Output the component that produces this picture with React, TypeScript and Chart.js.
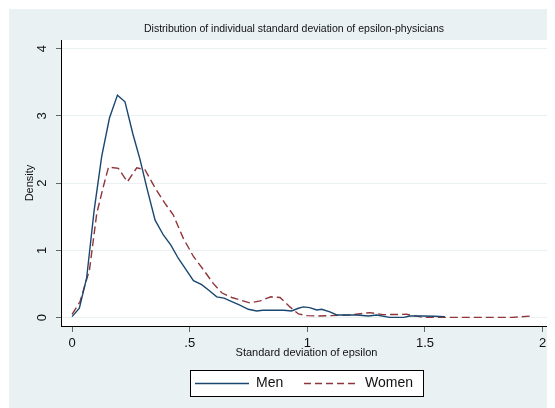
import React, { useEffect, useRef } from "react";
import { Chart, registerables } from "chart.js";

Chart.register(...registerables);

const titleText = "Distribution of individual standard deviation of epsilon-physicians";
const xAxisTitle = "Standard deviation of epsilon";
const yAxisTitle = "Density";
const seriesNames = ["Men", "Women"];
const xTicks = [0, 0.5, 1, 1.5, 2];
const xTickLabels = ["0", ".5", "1", "1.5", "2"];
const yTicks = [0, 1, 2, 3, 4];
const yTickLabels = ["0", "1", "2", "3", "4"];

const menX = [0, 0.031, 0.062, 0.094, 0.126, 0.159, 0.193, 0.225, 0.258, 0.289, 0.32, 0.353, 0.388, 0.42, 0.452, 0.485, 0.516, 0.551, 0.584, 0.615, 0.646, 0.679, 0.711, 0.749, 0.785, 0.81, 0.86, 0.9, 0.933, 0.962, 0.983, 1.01, 1.04, 1.061, 1.096, 1.125, 1.17, 1.21, 1.26, 1.295, 1.35, 1.41, 1.436, 1.49, 1.54, 1.585];
const menY = [0.015, 0.14, 0.59, 1.6, 2.4, 2.97, 3.31, 3.21, 2.74, 2.35, 1.9, 1.45, 1.23, 1.08, 0.88, 0.71, 0.55, 0.49, 0.4, 0.31, 0.29, 0.24, 0.19, 0.125, 0.1, 0.11, 0.11, 0.11, 0.1, 0.14, 0.16, 0.15, 0.115, 0.125, 0.085, 0.04, 0.04, 0.04, 0.025, 0.04, 0.005, 0.005, 0.025, 0.025, 0.02, 0.015];

const womenX = [0, 0.034, 0.074, 0.105, 0.133, 0.155, 0.197, 0.235, 0.275, 0.31, 0.353, 0.395, 0.43, 0.473, 0.516, 0.559, 0.6, 0.636, 0.679, 0.756, 0.8, 0.845, 0.884, 0.926, 0.962, 1.0, 1.04, 1.1, 1.18, 1.266, 1.323, 1.422, 1.49, 1.6, 1.75, 1.87, 1.958];
const womenY = [0.05, 0.24, 0.71, 1.55, 1.95, 2.24, 2.22, 2.02, 2.23, 2.2, 1.93, 1.7, 1.53, 1.18, 0.91, 0.71, 0.51, 0.37, 0.3, 0.22, 0.25, 0.31, 0.3, 0.16, 0.055, 0.03, 0.025, 0.03, 0.04, 0.075, 0.045, 0.05, 0.005, 0.005, 0.005, 0.005, 0.025];

const W = 547;
const H = 400;
const BG = "#EAF1F3";
const MEN_COLOR = "#1A476F";
const WOMEN_COLOR = "#90353B";
const FONT = '"Liberation Sans", Arial, sans-serif';

export default function App() {
  const ref = useRef<HTMLCanvasElement>(null);

  useEffect(() => {
    const canvas = ref.current;
    if (!canvas) return;

    const stataPlugin = {
      id: "stataLook",
      beforeDraw(chart: any) {
        const { ctx, chartArea: a } = chart;
        ctx.save();
        ctx.fillStyle = "#ffffff";
        ctx.fillRect(0, 0, W, H);
        ctx.fillStyle = BG;
        ctx.fillRect(1, 1, W - 1, H - 1);
        ctx.fillStyle = "#ffffff";
        ctx.fillRect(a.left, a.top, a.right - a.left, a.bottom - a.top);
        ctx.restore();
      },
      afterDraw(chart: any) {
        const { ctx, chartArea: a } = chart;
        const xs = chart.scales.x;
        const ys = chart.scales.y;
        ctx.save();
        ctx.fillStyle = "#111";
        ctx.textAlign = "center";
        ctx.textBaseline = "middle";

        // title
        ctx.font = `10.5px ${FONT}`;
        ctx.fillText(titleText, 286, 21);

        // x tick labels
        ctx.font = `13px ${FONT}`;
        xTicks.forEach((v, i) => {
          ctx.fillText(xTickLabels[i], xs.getPixelForValue(v), 335);
        });

        // x title
        ctx.font = `11px ${FONT}`;
        ctx.fillText(xAxisTitle, (a.left + a.right) / 2, 345);

        // y tick labels (rotated)
        yTicks.forEach((v, i) => {
          ctx.save();
          ctx.translate(34, ys.getPixelForValue(v));
          ctx.rotate(-Math.PI / 2);
          ctx.font = `13px ${FONT}`;
          ctx.fillText(yTickLabels[i], 0, 0);
          ctx.restore();
        });

        // y title
        ctx.save();
        ctx.translate(22, (a.top + a.bottom) / 2);
        ctx.rotate(-Math.PI / 2);
        ctx.font = `11px ${FONT}`;
        ctx.fillText(yAxisTitle, 0, 0);
        ctx.restore();

        // legend
        const bx = 182, by = 362, bw = 233, bh = 26;
        ctx.fillStyle = "#ffffff";
        ctx.fillRect(bx, by, bw, bh);
        ctx.strokeStyle = "#000";
        ctx.lineWidth = 1;
        ctx.strokeRect(bx + 0.5, by + 0.5, bw, bh);
        const ly = by + bh / 2 + 0.5;
        const ds = chart.data.datasets;
        const entries = [
          { x0: 187, x1: 241, tx: 248 },
          { x0: 296, x1: 350, tx: 357 },
        ];
        entries.forEach((e, i) => {
          ctx.beginPath();
          ctx.strokeStyle = ds[i].borderColor;
          ctx.lineWidth = 1.3;
          ctx.setLineDash(i === 1 ? [7, 4] : []);
          ctx.moveTo(e.x0, ly);
          ctx.lineTo(e.x1, ly);
          ctx.stroke();
          ctx.setLineDash([]);
          ctx.fillStyle = "#111";
          ctx.font = `14px ${FONT}`;
          ctx.textAlign = "left";
          ctx.fillText(ds[i].label, e.tx, ly);
        });
        ctx.restore();
      },
    };

    const chart = new Chart(canvas, {
      type: "line",
      data: {
        datasets: [
          {
            label: seriesNames[0],
            data: menX.map((x, i) => ({ x, y: menY[i] })),
            borderColor: MEN_COLOR,
            borderWidth: 1.4,
            pointRadius: 0,
            tension: 0,
            fill: false,
          },
          {
            label: seriesNames[1],
            data: womenX.map((x, i) => ({ x, y: womenY[i] })),
            borderColor: WOMEN_COLOR,
            borderWidth: 1.4,
            borderDash: [8, 4],
            pointRadius: 0,
            tension: 0,
            fill: false,
          },
        ],
      },
      options: {
        responsive: false,
        animation: false,
        devicePixelRatio: 1,
        layout: { padding: { left: 0, top: 32, right: 3, bottom: 0 } },
        plugins: {
          legend: { display: false },
          title: { display: false },
          tooltip: { enabled: false },
        },
        scales: {
          x: {
            type: "linear",
            min: -0.047,
            max: 2.04,
            afterBuildTicks: (s: any) => {
              s.ticks = xTicks.map((v) => ({ value: v }));
            },
            afterFit: (s: any) => {
              s.height = 82;
            },
            ticks: { display: false },
            grid: {
              drawOnChartArea: false,
              drawTicks: true,
              tickLength: 6,
              tickColor: "#666",
              color: "#666",
            },
            border: { display: true, color: "#000", width: 1 },
          },
          y: {
            type: "linear",
            min: -0.124,
            max: 4.13,
            afterBuildTicks: (s: any) => {
              s.ticks = yTicks.map((v) => ({ value: v }));
            },
            afterFit: (s: any) => {
              s.width = 53;
            },
            ticks: { display: false },
            grid: {
              color: BG,
              lineWidth: 1,
              drawTicks: true,
              tickLength: 5,
              tickColor: "#666",
            },
            border: { display: true, color: "#000", width: 1 },
          },
        },
      },
      plugins: [stataPlugin],
    } as any);

    return () => chart.destroy();
  }, []);

  return <canvas ref={ref} width={W} height={H} style={{ display: "block" }} />;
}
